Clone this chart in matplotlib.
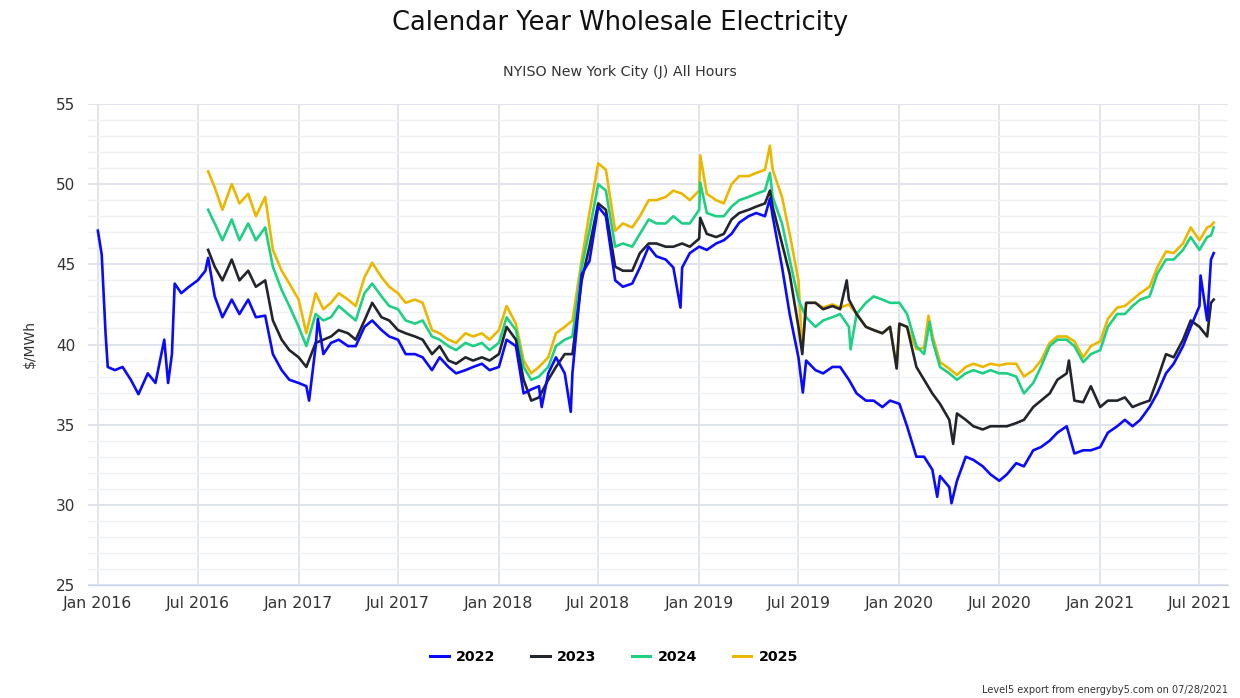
import matplotlib
matplotlib.use("Agg")
import matplotlib.pyplot as plt
from matplotlib.lines import Line2D
import pandas as pd

# ---------------- data ----------------
series_names = ["2022", "2023", "2024", "2025"]
series_colors = ["#0a0aff", "#23252d", "#1fd084", "#ebb700"]

# semi-monthly grid (1st and 15th of each month)
blue_start = "2016-01-01"
late_start = "2016-07-20"
late_grid_start = "2016-08-01"
grid_end = "2021-07-15"
tail_dates = ["2021-07-22", "2021-07-27"]

blue_2016 = [47.1, 40.7, 38.4, 38.6, 37.8, 36.9, 38.2, 37.6, 40.3, 39.4, 43.2, 43.6,
             44.0, 44.6, 43.0, 41.7, 42.8, 41.9, 42.8, 41.7, 41.8, 39.4, 38.4, 37.8]
blue_2017 = [37.6, 37.4, 39.9, 39.4, 40.1, 40.3, 39.9, 39.9, 41.1, 41.5, 40.9, 40.5,
             40.3, 39.4, 39.4, 39.2, 38.4, 39.2, 38.6, 38.2, 38.4, 38.6, 38.8, 38.4]
blue_2018 = [38.6, 40.3, 39.9, 36.95, 37.2, 37.4, 38.2, 39.2, 38.2, 38.2, 44.4, 45.2,
             48.6, 48.0, 44.0, 43.6, 43.8, 44.8, 46.1, 45.5, 45.3, 44.8, 44.8, 45.7]
blue_2019 = [46.1, 45.9, 46.3, 46.5, 46.9, 47.6, 48.0, 48.2, 48.0, 48.0, 44.85, 41.9,
             39.2, 39.0, 38.4, 38.2, 38.6, 38.6, 37.8, 36.95, 36.5, 36.5, 36.1, 36.5]
blue_2020 = [36.3, 34.9, 33.0, 33.0, 32.2, 31.8, 31.1, 31.5, 33.0, 32.8, 32.4, 31.9,
             31.5, 31.9, 32.6, 32.4, 33.4, 33.6, 34.0, 34.5, 34.9, 33.2, 33.4, 33.4]
blue_2021 = [33.6, 34.5, 34.9, 35.3, 34.9, 35.3, 36.1, 36.95, 38.2, 38.8, 39.9, 41.1,
             42.4, 41.5]
blue_tail = [45.3, 45.7]
blue_extra_dates = ["2016-01-08", "2016-01-19", "2016-05-08", "2016-05-20", "2016-07-20",
                    "2017-01-20", "2017-02-05", "2018-03-20", "2018-05-12", "2018-11-28",
                    "2019-05-10", "2019-07-09", "2020-03-10", "2020-04-05", "2021-07-03"]
blue_extra_vals = [45.6, 38.6, 37.6, 43.8, 45.4, 36.5, 41.6, 36.1, 35.8, 42.3,
                   49.1, 37.0, 30.5, 30.1, 44.3]

black_2016 = [45.9, 44.85, 44.0, 45.3, 44.0, 44.6, 43.6, 44.0, 41.5, 40.3, 39.65]
black_2017 = [39.2, 38.6, 40.1, 40.3, 40.5, 40.9, 40.7, 40.3, 41.5, 42.6, 41.7, 41.5,
              40.9, 40.7, 40.5, 40.3, 39.4, 39.9, 39.0, 38.8, 39.2, 39.0, 39.2, 39.0]
black_2018 = [39.4, 41.1, 40.3, 37.8, 36.5, 36.7, 37.8, 38.6, 39.4, 39.4, 44.0, 46.1,
              48.8, 48.4, 44.85, 44.6, 44.6, 45.7, 46.3, 46.3, 46.1, 46.1, 46.3, 46.1]
black_2019 = [46.6, 46.9, 46.7, 46.9, 47.8, 48.2, 48.4, 48.6, 48.8, 48.6, 46.3, 44.4,
              41.1, 42.6, 42.6, 42.2, 42.4, 42.2, 42.8, 41.9, 41.1, 40.9, 40.7, 41.1]
black_2020 = [41.3, 41.1, 38.6, 37.8, 36.95, 36.3, 35.3, 35.7, 35.3, 34.9, 34.7, 34.9,
              34.9, 34.9, 35.1, 35.3, 36.1, 36.5, 36.95, 37.8, 38.2, 36.5, 36.4, 37.4]
black_2021 = [36.1, 36.5, 36.5, 36.7, 36.1, 36.3, 36.5, 37.8, 39.4, 39.2, 40.3, 41.5,
              41.1, 40.5]
black_tail = [42.6, 42.8]
black_extra_dates = ["2019-01-03", "2019-05-10", "2019-07-08", "2019-09-27", "2019-12-27",
                     "2020-04-08", "2020-11-05"]
black_extra_vals = [47.9, 49.6, 39.4, 44.0, 38.5, 33.8, 39.0]

green_2016 = [48.4, 47.55, 46.5, 47.8, 46.5, 47.55, 46.5, 47.3, 44.85, 43.4, 42.4]
green_2017 = [41.1, 39.9, 41.9, 41.5, 41.7, 42.4, 41.9, 41.5, 43.2, 43.8, 43.0, 42.4,
              42.2, 41.5, 41.3, 41.5, 40.5, 40.3, 39.9, 39.65, 40.1, 39.9, 40.1, 39.65]
green_2018 = [40.1, 41.7, 40.9, 38.6, 37.8, 38.0, 38.6, 39.9, 40.3, 40.5, 44.85, 47.1,
              50.0, 49.6, 46.1, 46.3, 46.1, 46.9, 47.8, 47.55, 47.55, 48.0, 47.55, 47.55]
green_2019 = [48.4, 48.2, 48.0, 48.0, 48.6, 49.0, 49.2, 49.4, 49.6, 49.2, 47.55, 45.3,
              42.8, 41.7, 41.1, 41.5, 41.7, 41.9, 41.1, 41.9, 42.6, 43.0, 42.8, 42.6]
green_2020 = [42.6, 41.9, 39.9, 39.4, 40.3, 38.6, 38.2, 37.8, 38.2, 38.4, 38.2, 38.4,
              38.2, 38.2, 38.0, 36.95, 37.6, 38.6, 39.9, 40.3, 40.3, 39.9, 38.9, 39.4]
green_2021 = [39.65, 41.1, 41.9, 41.9, 42.4, 42.8, 43.0, 44.4, 45.3, 45.3, 45.9, 46.7,
              45.9, 46.7]
green_tail = [46.8, 47.3]
green_extra_dates = ["2019-01-03", "2019-05-10", "2019-10-04", "2020-02-25"]
green_extra_vals = [50.1, 50.7, 39.7, 41.4]

yellow_2016 = [50.8, 49.8, 48.4, 50.0, 48.8, 49.4, 48.0, 49.2, 45.9, 44.6, 43.8]
yellow_2017 = [42.8, 40.7, 43.2, 42.2, 42.6, 43.2, 42.8, 42.4, 44.2, 45.1, 44.2, 43.6,
               43.2, 42.6, 42.8, 42.6, 40.9, 40.7, 40.3, 40.1, 40.7, 40.5, 40.7, 40.3]
yellow_2018 = [40.9, 42.4, 41.3, 39.0, 38.2, 38.6, 39.2, 40.7, 41.1, 41.5, 45.3, 48.2,
               51.3, 50.9, 47.1, 47.55, 47.3, 48.0, 49.0, 49.0, 49.2, 49.6, 49.4, 49.0]
yellow_2019 = [49.6, 49.4, 49.0, 48.8, 50.0, 50.5, 50.5, 50.7, 50.9, 50.9, 49.2, 46.9,
               44.0, 42.6, 42.6, 42.3, 42.5, 42.3, 42.5, 41.9, 41.1, 40.9, 40.7, 41.1]
yellow_2020 = [41.3, 41.1, 39.7, 39.8, 40.6, 38.9, 38.5, 38.1, 38.6, 38.8, 38.6, 38.8,
               38.7, 38.8, 38.8, 38.0, 38.4, 39.0, 40.1, 40.5, 40.5, 40.2, 39.2, 39.9]
yellow_2021 = [40.2, 41.6, 42.3, 42.4, 42.8, 43.2, 43.6, 44.8, 45.8, 45.7, 46.3, 47.3,
               46.5, 47.3]
yellow_tail = [47.4, 47.6]
yellow_extra_dates = ["2019-01-03", "2019-05-10", "2019-07-08", "2019-12-27", "2020-02-23"]
yellow_extra_vals = [51.8, 52.4, 39.6, 38.6, 41.8]

x_tick_dates = ["2016-01-01", "2016-07-01", "2017-01-01", "2017-07-01", "2018-01-01",
                "2018-07-01", "2019-01-01", "2019-07-01", "2020-01-01", "2020-07-01",
                "2021-01-01", "2021-07-01"]
x_tick_labels = ["Jan 2016", "Jul 2016", "Jan 2017", "Jul 2017", "Jan 2018", "Jul 2018",
                 "Jan 2019", "Jul 2019", "Jan 2020", "Jul 2020", "Jan 2021", "Jul 2021"]
y_ticks = [25, 30, 35, 40, 45, 50, 55]

title = "Calendar Year Wholesale Electricity"
subtitle = "NYISO New York City (J) All Hours"
y_label = "$/MWh"
credit = "Level5 export from energyby5.com on 07/28/2021"


# ---------------- assemble series ----------------
def build(grid_dates, values, tail, extra_d, extra_v):
    d = list(grid_dates) + list(pd.to_datetime(tail_dates)) + list(pd.to_datetime(extra_d))
    v = list(values) + list(tail) + list(extra_v)
    return pd.Series(v, index=pd.DatetimeIndex(d)).sort_index()


blue_grid = pd.date_range(blue_start, grid_end, freq="SMS")
late_grid = pd.DatetimeIndex([pd.Timestamp(late_start)]).append(
    pd.date_range(late_grid_start, grid_end, freq="SMS"))

s_blue = build(blue_grid, blue_2016 + blue_2017 + blue_2018 + blue_2019 + blue_2020 + blue_2021,
               blue_tail, blue_extra_dates, blue_extra_vals)
s_black = build(late_grid, black_2016 + black_2017 + black_2018 + black_2019 + black_2020 + black_2021,
                black_tail, black_extra_dates, black_extra_vals)
s_green = build(late_grid, green_2016 + green_2017 + green_2018 + green_2019 + green_2020 + green_2021,
                green_tail, green_extra_dates, green_extra_vals)
s_yellow = build(late_grid, yellow_2016 + yellow_2017 + yellow_2018 + yellow_2019 + yellow_2020 + yellow_2021,
                 yellow_tail, yellow_extra_dates, yellow_extra_vals)
all_series = [s_blue, s_black, s_green, s_yellow]

# ---------------- figure ----------------
plt.rcParams["font.family"] = ["DejaVu Sans"]
W, H = 1240, 698
fig = plt.figure(figsize=(W / 100, H / 100), dpi=100)
ax = fig.add_axes([88 / W, 1 - 585 / H, (1228 - 88) / W, (585 - 104) / H])

n = len(all_series)
for i, (s, name, c) in enumerate(zip(all_series, series_names, series_colors)):
    ax.plot(s.index, s.values, color=c, lw=1.9, label=name, zorder=10 + (n - i),
            solid_joinstyle="round")

ax.set_ylim(25, 55)
ax.set_xlim(pd.Timestamp("2015-12-14"), pd.Timestamp("2021-08-22"))
ax.set_yticks(y_ticks)
ax.set_yticks(range(25, 56), minor=True)
ax.set_xticks(pd.to_datetime(x_tick_dates))
ax.set_xticklabels(x_tick_labels)

ax.grid(True, which="major", axis="y", color="#dde1e8", lw=1.3, zorder=0)
ax.grid(True, which="minor", axis="y", color="#eef0f3", lw=1.0, zorder=0)
ax.grid(True, which="major", axis="x", color="#dde1e8", lw=1.2, zorder=0)
ax.set_axisbelow(True)

for sp in ["top", "right", "left"]:
    ax.spines[sp].set_visible(False)
ax.spines["bottom"].set_color("#ccd6eb")
ax.spines["bottom"].set_linewidth(1.0)

ax.tick_params(axis="y", which="both", length=0, pad=9, labelsize=11, labelcolor="#333333")
ax.tick_params(axis="x", which="both", length=0, pad=8, labelsize=11.3, labelcolor="#333333")
ax.set_ylabel(y_label, fontsize=10, color="#333333", labelpad=14)

fig.text(0.5, 1 - 23 / H, title, ha="center", va="center", fontsize=18.5, color="#111111")
fig.text(0.5, 1 - 72 / H, subtitle, ha="center", va="center", fontsize=10.3, color="#333333")

handles = [Line2D([0], [0], color=c, lw=2.2) for c in series_colors]
fig.legend(handles, series_names, loc="center", bbox_to_anchor=(614 / W, 1 - 657 / H),
           ncol=4, frameon=False, handlelength=1.3, handletextpad=0.5, columnspacing=2.5,
           prop={"weight": "bold", "size": 10.3})

fig.text(1 - 12 / W, 1 - 690 / H, credit, ha="right", va="center", fontsize=7, color="#333333")

fig.savefig("out.png", dpi=100)
